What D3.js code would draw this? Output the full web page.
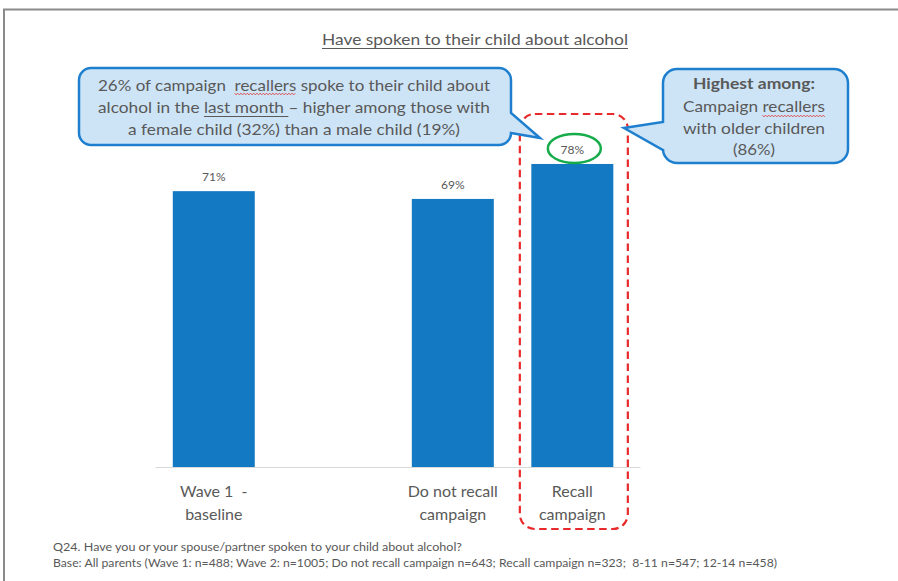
<!DOCTYPE html>
<html>
<head>
<meta charset="utf-8">
<script src="https://cdn.jsdelivr.net/npm/d3@7"></script>
<style>
  html, body { margin: 0; padding: 0; background: #ffffff; }
  svg { display: block; font-family: Lato, "Open Sans", sans-serif; }
  svg text { white-space: pre; }
</style>
</head>
<body>
<svg id="chart" width="898" height="581"></svg>
<script>
// Share of parents who have spoken to their child about alcohol
const categories = ["Wave 1 - baseline", "(gap)", "Do not recall campaign", "Recall campaign"];
const categoryLines = [["Wave 1  -", "baseline"], [], ["Do not recall", "campaign"], ["Recall", "campaign"]];
const values = [71, null, 69, 78];
const highlighted = "Recall campaign";

const titleText = "Have spoken to their child about alcohol";
const calloutLeftLines = [
  "26% of campaign  recallers spoke to their child about",
  "alcohol in the last month \u2013 higher among those with",
  "a female child (32%) than a male child (19%)"
];
const calloutRightLines = ["Highest among:", "Campaign recallers", "with older children", "(86%)"];
const footnotes = [
  "Q24. Have you or your spouse/partner spoken to your child about alcohol?",
  "Base: All parents (Wave 1: n=488; Wave 2: n=1005; Do not recall campaign n=643; Recall campaign n=323;  8-11 n=547; 12-14 n=458)"
];

const textGrey = "#595959";
const barBlue = "#1379c3";
const svg = d3.select("#chart");

// Frame lines along the top and left edges
svg.append("path")
  .attr("d", "M4,581 V9.5 H898")
  .attr("fill", "none").attr("stroke", "#8a8a8a").attr("stroke-width", 2);

// Scales
const x = d3.scaleBand()
  .domain(categories)
  .range([155, 640])
  .paddingInner(0.314)
  .paddingOuter(0.186)
  .align(0.40);
const y = d3.scaleLinear().domain([0, 100]).range([467, 78.5]);

const data = categories.map((c, i) => ({ cat: c, value: values[i], lines: categoryLines[i] }))
  .filter(d => d.value != null);

// Title with underline
svg.append("text")
  .attr("x", 475).attr("y", 45)
  .attr("text-anchor", "middle")
  .attr("font-size", 16).attr("fill", textGrey)
  .attr("textLength", 306).attr("lengthAdjust", "spacingAndGlyphs")
  .text(titleText);
svg.append("line").attr("x1", 322).attr("x2", 628).attr("y1", 48.5).attr("y2", 48.5)
  .attr("stroke", textGrey).attr("stroke-width", 1);

// Bars
svg.append("g").selectAll("rect").data(data).join("rect")
  .attr("x", d => x(d.cat))
  .attr("width", x.bandwidth())
  .attr("y", d => y(d.value))
  .attr("height", d => y(0) - y(d.value))
  .attr("fill", barBlue);

// Value labels
svg.append("g").selectAll("text").data(data).join("text")
  .attr("x", d => x(d.cat) + x.bandwidth() / 2)
  .attr("y", d => y(d.value) - 10)
  .attr("text-anchor", "middle")
  .attr("font-size", 12).attr("fill", textGrey)
  .text(d => d.value + "%");

// Category axis
const axis = svg.append("g")
  .attr("transform", `translate(0,${y(0)})`)
  .call(d3.axisBottom(x).tickSize(0).tickSizeOuter(0).tickFormat(""));
axis.select(".domain").attr("stroke", "#d9d9d9").attr("stroke-width", 1.2);
axis.selectAll(".tick").each(function (c) {
  const lines = categoryLines[categories.indexOf(c)];
  const t = d3.select(this).select("text")
    .attr("y", 0).attr("dy", null)
    .attr("font-size", 16).attr("fill", textGrey)
    .attr("font-family", "Lato, sans-serif");
  t.selectAll("tspan").data(lines).join("tspan")
    .attr("x", 0)
    .attr("y", (d, i) => 30 + i * 23)
    .text(d => d);
});

// Highlight around the recall bar: dashed frame and circled value
const hx = x(highlighted);
const hv = values[categories.indexOf(highlighted)];
svg.append("rect")
  .attr("x", hx - 11.5).attr("y", 114)
  .attr("width", 108)
  .attr("height", 415)
  .attr("rx", 15).attr("ry", 15)
  .attr("fill", "none").attr("stroke", "#e92a2a").attr("stroke-width", 2.2)
  .attr("stroke-dasharray", "7.5,4.5");
svg.append("ellipse")
  .attr("cx", hx + x.bandwidth() / 2 + 2).attr("cy", y(hv) - 15.5)
  .attr("rx", 26.5).attr("ry", 14.5)
  .attr("fill", "none").attr("stroke", "#16ac4b").attr("stroke-width", 2.5);

// Speech-bubble callouts
function bubblePath(x0, y0, x1, y1, r, tail) {
  const p = d3.path();
  p.moveTo(x0 + r, y0);
  p.lineTo(x1 - r, y0);
  p.arcTo(x1, y0, x1, y0 + r, r);
  if (tail.side === "right") {
    p.lineTo(x1, tail.a);
    p.lineTo(tail.tx, tail.ty);
    p.lineTo(x1, tail.b);
  }
  p.lineTo(x1, y1 - r);
  p.arcTo(x1, y1, x1 - r, y1, r);
  p.lineTo(x0 + r, y1);
  p.arcTo(x0, y1, x0, y1 - r, r);
  if (tail.side === "left") {
    p.lineTo(x0, tail.b);
    p.lineTo(tail.tx, tail.ty);
    p.lineTo(x0, tail.a);
  }
  p.lineTo(x0, y0 + r);
  p.arcTo(x0, y0, x0 + r, y0, r);
  p.closePath();
  return p.toString();
}
const bubbleFill = "#cde4f7", bubbleStroke = "#1f7fcf";
svg.append("path")
  .attr("d", bubblePath(79, 68, 511, 145, 12, { side: "right", a: 113, b: 133, tx: 540, ty: 138 }))
  .attr("fill", bubbleFill).attr("stroke", bubbleStroke).attr("stroke-width", 2.5)
  .attr("stroke-linejoin", "miter");
svg.append("path")
  .attr("d", bubblePath(663, 69, 848, 163, 14, { side: "left", a: 122, b: 150, tx: 624, ty: 128 }))
  .attr("fill", bubbleFill).attr("stroke", bubbleStroke).attr("stroke-width", 2.5)
  .attr("stroke-linejoin", "miter");

// Spell-check style squiggle and plain underline under a word of a text line
function wavy(g, xa, xb, yy) {
  const pts = [];
  let up = true;
  for (let xx = xa; xx <= xb; xx += 1.6) { pts.push([xx, yy + (up ? -0.9 : 0.9)]); up = !up; }
  g.append("path").attr("d", d3.line()(pts))
    .attr("fill", "none").attr("stroke", "#e03a3a").attr("stroke-width", 0.8);
}
function markWord(g, node, str, word, kind, yy) {
  const i = str.indexOf(word);
  const xa = node.getStartPositionOfChar(i).x;
  const xb = node.getEndPositionOfChar(i + word.length - 1).x;
  if (kind === "wavy") wavy(g, xa, xb, yy);
  else g.append("line").attr("x1", xa).attr("x2", xb).attr("y1", yy).attr("y2", yy)
    .attr("stroke", textGrey).attr("stroke-width", 1);
}

// Left callout text
const leftG = svg.append("g");
const leftWidths = [392, 392, 332];
const leftNodes = calloutLeftLines.map((s, i) => leftG.append("text")
  .attr("x", 294).attr("y", 91 + i * 22)
  .attr("text-anchor", "middle")
  .attr("font-size", 16).attr("fill", textGrey)
  .attr("textLength", leftWidths[i]).attr("lengthAdjust", "spacingAndGlyphs")
  .text(s).node());
markWord(leftG, leftNodes[0], calloutLeftLines[0], "recallers", "wavy", 94);
markWord(leftG, leftNodes[1], calloutLeftLines[1], "last month ", "line", 116.5);

// Right callout text
const rightG = svg.append("g");
const rightWidths = [122, 142, 142, 42];
const rightBase = [89, 112, 134, 155];
const rightNodes = calloutRightLines.map((s, i) => rightG.append("text")
  .attr("x", 754).attr("y", rightBase[i])
  .attr("text-anchor", "middle")
  .attr("font-size", 16).attr("fill", textGrey)
  .attr("font-weight", i === 0 ? "bold" : "normal")
  .attr("textLength", rightWidths[i]).attr("lengthAdjust", "spacingAndGlyphs")
  .text(s).node());
markWord(rightG, rightNodes[1], calloutRightLines[1], "recallers", "wavy", 116);

// Footnotes
const footWidths = [409, 724];
footnotes.forEach((s, i) => svg.append("text")
  .attr("x", 53).attr("y", 551 + i * 16)
  .attr("font-size", 11).attr("fill", textGrey)
  .attr("textLength", footWidths[i]).attr("lengthAdjust", "spacingAndGlyphs")
  .text(s));
</script>
</body>
</html>
